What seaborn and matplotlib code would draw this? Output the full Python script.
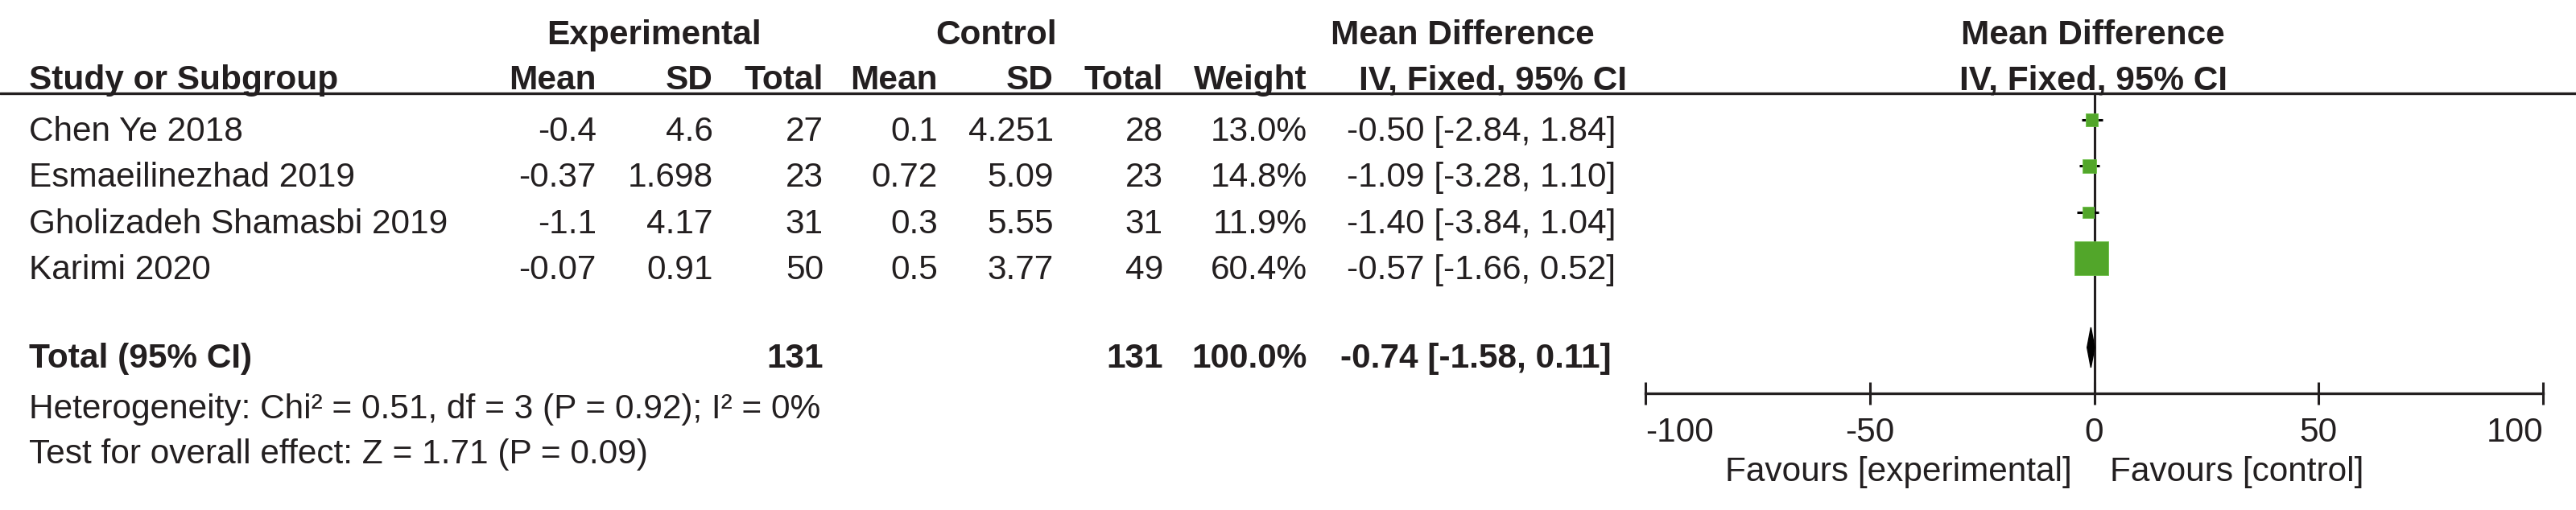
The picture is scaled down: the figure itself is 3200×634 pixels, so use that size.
import matplotlib
matplotlib.use("Agg")
import matplotlib.pyplot as plt
import seaborn as sns

# --- data ---
studies = ["Chen Ye 2018", "Esmaeilinezhad 2019", "Gholizadeh Shamasbi 2019", "Karimi 2020"]
exp_mean = [-0.4, -0.37, -1.1, -0.07]
exp_sd = [4.6, 1.698, 4.17, 0.91]
exp_n = [27, 23, 31, 50]
ctl_mean = [0.1, 0.72, 0.3, 0.5]
ctl_sd = [4.251, 5.09, 5.55, 3.77]
ctl_n = [28, 23, 31, 49]
weight = [13.0, 14.8, 11.9, 60.4]
md = [-0.50, -1.09, -1.40, -0.57]
ci_lo = [-2.84, -3.28, -3.84, -1.66]
ci_hi = [1.84, 1.10, 1.04, 0.52]
total_md, total_lo, total_hi = -0.74, -1.58, 0.11
total_exp_n, total_ctl_n, total_weight = 131, 131, 100.0
x_ticks = [-100, -50, 0, 50, 100]
heterogeneity = "Heterogeneity: Chi² = 0.51, df = 3 (P = 0.92); I² = 0%"
overall = "Test for overall effect: Z = 1.71 (P = 0.09)"

sns.set_theme(style="white")
plt.rcParams['font.family'] = ['Liberation Sans', 'DejaVu Sans']
INK = "#231f20"
GREEN = "#52a62a"
FS = 30.5

W, H = 3200, 634
fig = plt.figure(figsize=(W / 100, H / 100), dpi=100)

# text layer in pixel coordinates
tab = fig.add_axes([0, 0, 1, 1])
tab.set_xlim(0, W)
tab.set_ylim(H, 0)
tab.axis("off")

line_y = 116
row0, row_step = 175, 57.3
row_base = [row0 + i * row_step for i in range(len(studies))]
total_base = 457


def txt(x, y, s, ha="right", bold=False):
    tab.text(x, y, s, ha=ha, va="baseline", fontsize=FS, color=INK,
             fontweight="bold" if bold else "normal")


# headers
txt(812, 55, "Experimental", ha="center", bold=True)
txt(1238, 55, "Control", ha="center", bold=True)
txt(1817, 55, "Mean Difference", ha="center", bold=True)
txt(2600, 55, "Mean Difference", ha="center", bold=True)
txt(36, 111, "Study or Subgroup", ha="left", bold=True)
for x, s in [(741, "Mean"), (886, "SD"), (1023, "Total"), (1165, "Mean"),
             (1309, "SD"), (1445, "Total"), (1624, "Weight")]:
    txt(x, 111, s, bold=True)
txt(1854, 111, "IV, Fixed, 95% CI", ha="center", bold=True)
txt(2600, 111, "IV, Fixed, 95% CI", ha="center", bold=True)
tab.axhline(line_y, color=INK, lw=2.4)

# study rows
for i, y in enumerate(row_base):
    txt(36, y, studies[i], ha="left")
    txt(741, y, str(exp_mean[i]))
    txt(886, y, str(exp_sd[i]))
    txt(1023, y, str(exp_n[i]))
    txt(1165, y, str(ctl_mean[i]))
    txt(1309, y, str(ctl_sd[i]))
    txt(1445, y, str(ctl_n[i]))
    txt(1624, y, f"{weight[i]:.1f}%")
    txt(2007, y, f"{md[i]:.2f} [{ci_lo[i]:.2f}, {ci_hi[i]:.2f}]")

# total row
txt(36, total_base, "Total (95% CI)", ha="left", bold=True)
txt(1023, total_base, str(total_exp_n), bold=True)
txt(1445, total_base, str(total_ctl_n), bold=True)
txt(1624, total_base, f"{total_weight:.1f}%", bold=True)
txt(2002, total_base, f"{total_md:.2f} [{total_lo:.2f}, {total_hi:.2f}]", bold=True)
txt(36, 520, heterogeneity, ha="left")
txt(36, 576, overall, ha="left")

# forest plot
ax_left, ax_right = 2044, 3159
axis_y = 489
fa = fig.add_axes([ax_left / W, 0, (ax_right - ax_left) / W, 1])
fa.set_facecolor("none")
fa.set_xlim(x_ticks[0], x_ticks[-1])
fa.set_ylim(H, 0)
for side in ["top", "left", "right"]:
    fa.spines[side].set_visible(False)
fa.spines["bottom"].set_position(("data", axis_y))
fa.spines["bottom"].set_color(INK)
fa.spines["bottom"].set_linewidth(2.4)
fa.set_yticks([])
fa.set_xticks(x_ticks)
fa.set_xticklabels([str(t) for t in x_ticks])
fa.tick_params(axis="x", direction="inout", length=20, width=2.2, colors=INK,
               labelsize=FS, pad=11, bottom=True)
labels = fa.get_xticklabels()
labels[0].set_horizontalalignment("left")
labels[-1].set_horizontalalignment("right")

fa.vlines(0, line_y, axis_y, color=INK, lw=2.2, zorder=1)

mark_y = [y - 26 for y in row_base]
fa.hlines(mark_y, ci_lo, ci_hi, color="black", lw=2.2, zorder=2)
sns.scatterplot(x=md, y=mark_y, size=weight, sizes=(100, 914),
                size_norm=(min(weight), max(weight)), marker="s", color=GREEN,
                edgecolor="#6cc046", linewidth=0.6, legend=False, ax=fa, zorder=3)

dy = total_base - 25
half = 25
fa.fill([total_lo, total_md, total_hi, total_md], [dy, dy - half, dy, dy + half],
        color="black", zorder=4)

fa.annotate("Favours [experimental]", xy=(0, 598), xytext=(-28, 0),
            textcoords="offset pixels", ha="right", va="baseline",
            fontsize=FS, color=INK)
fa.annotate("Favours [control]", xy=(0, 598), xytext=(19, 0),
            textcoords="offset pixels", ha="left", va="baseline",
            fontsize=FS, color=INK)

fig.savefig("out.png", dpi=100, facecolor="white")
